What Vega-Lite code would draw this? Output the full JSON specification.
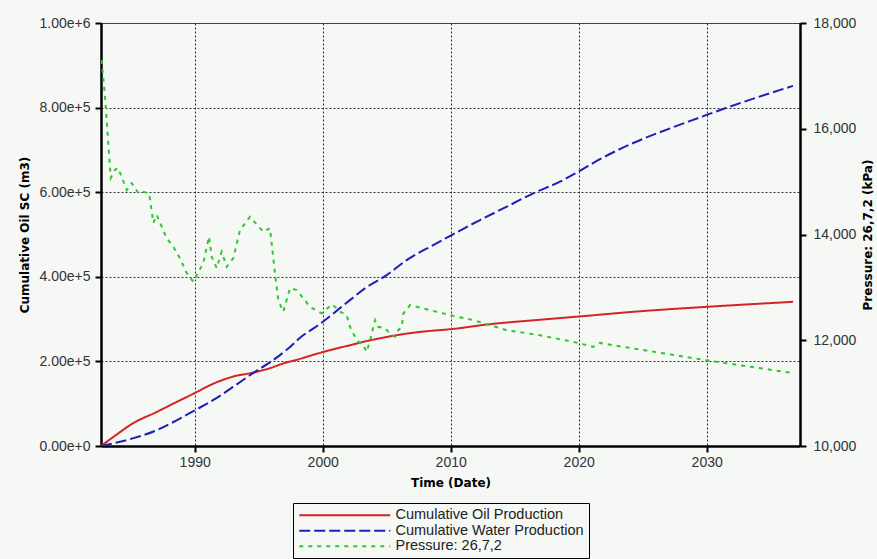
{
  "$schema": "https://vega.github.io/schema/vega-lite/v6.json",
  "width": 699,
  "height": 423,
  "autosize": {"type": "none"},
  "padding": {"left": 101, "top": 23, "right": 77, "bottom": 113},
  "background": "#f5f8f5",
  "config": {
    "font": "Liberation Sans",
    "view": {"stroke": "#555555", "strokeWidth": 1},
    "axis": {
      "domainColor": "#000000",
      "domainWidth": 2.5,
      "tickColor": "#000000",
      "tickWidth": 2,
      "tickSize": 6,
      "labelFont": "Liberation Sans",
      "labelFontSize": 14,
      "labelColor": "#333333",
      "titleFont": "DejaVu Sans",
      "titleFontSize": 12,
      "titleFontWeight": "bold",
      "titleColor": "#000000",
      "gridColor": "#333333",
      "gridDash": [2, 2],
      "gridWidth": 1,
      "gridOpacity": 1
    },
    "legend": {
      "orient": "none",
      "legendX": 192,
      "legendY": 480,
      "direction": "vertical",
      "strokeColor": "#000000",
      "fillColor": "#f5f8f5",
      "padding": 5,
      "symbolType": "M-1.2,0H17",
      "symbolSize": 100,
      "symbolStrokeWidth": 2,
      "labelOffset": 83,
      "labelFont": "Liberation Sans",
      "labelFontSize": 14.5,
      "labelColor": "#222222",
      "labelLimit": 400,
      "rowPadding": 0.5
    }
  },
  "datasets": {
    "production": [
      {"series": "Cumulative Oil Production", "year": 1982.68, "value": 0},
      {"series": "Cumulative Oil Production", "year": 1983.64, "value": 21300},
      {"series": "Cumulative Oil Production", "year": 1985.18, "value": 53700},
      {"series": "Cumulative Oil Production", "year": 1987.03, "value": 80500},
      {"series": "Cumulative Oil Production", "year": 1988.59, "value": 104100},
      {"series": "Cumulative Oil Production", "year": 1990.02, "value": 125400},
      {"series": "Cumulative Oil Production", "year": 1991.43, "value": 147000},
      {"series": "Cumulative Oil Production", "year": 1992.99, "value": 164000},
      {"series": "Cumulative Oil Production", "year": 1994.55, "value": 173500},
      {"series": "Cumulative Oil Production", "year": 1995.88, "value": 183900},
      {"series": "Cumulative Oil Production", "year": 1996.9, "value": 195000},
      {"series": "Cumulative Oil Production", "year": 1998.23, "value": 206000},
      {"series": "Cumulative Oil Production", "year": 1999.53, "value": 218000},
      {"series": "Cumulative Oil Production", "year": 2000.57, "value": 226500},
      {"series": "Cumulative Oil Production", "year": 2002.13, "value": 238300},
      {"series": "Cumulative Oil Production", "year": 2003.17, "value": 246200},
      {"series": "Cumulative Oil Production", "year": 2004.71, "value": 256000},
      {"series": "Cumulative Oil Production", "year": 2005.78, "value": 262000},
      {"series": "Cumulative Oil Production", "year": 2007.34, "value": 268800},
      {"series": "Cumulative Oil Production", "year": 2008.38, "value": 272000},
      {"series": "Cumulative Oil Production", "year": 2010.0, "value": 276200},
      {"series": "Cumulative Oil Production", "year": 2013.07, "value": 288000},
      {"series": "Cumulative Oil Production", "year": 2016.98, "value": 298500},
      {"series": "Cumulative Oil Production", "year": 2019.97, "value": 306000},
      {"series": "Cumulative Oil Production", "year": 2024.79, "value": 318500},
      {"series": "Cumulative Oil Production", "year": 2030.0, "value": 329000},
      {"series": "Cumulative Oil Production", "year": 2036.74, "value": 340800},
      {"series": "Cumulative Water Production", "year": 1982.68, "value": 0},
      {"series": "Cumulative Water Production", "year": 1985.18, "value": 18200},
      {"series": "Cumulative Water Production", "year": 1987.03, "value": 37200},
      {"series": "Cumulative Water Production", "year": 1988.59, "value": 60800},
      {"series": "Cumulative Water Production", "year": 1990.02, "value": 84500},
      {"series": "Cumulative Water Production", "year": 1991.43, "value": 108200},
      {"series": "Cumulative Water Production", "year": 1992.99, "value": 139600},
      {"series": "Cumulative Water Production", "year": 1994.55, "value": 172100},
      {"series": "Cumulative Water Production", "year": 1996.12, "value": 202800},
      {"series": "Cumulative Water Production", "year": 1997.45, "value": 234300},
      {"series": "Cumulative Water Production", "year": 1998.23, "value": 256000},
      {"series": "Cumulative Water Production", "year": 1999.53, "value": 283000},
      {"series": "Cumulative Water Production", "year": 2002.13, "value": 344900},
      {"series": "Cumulative Water Production", "year": 2003.3, "value": 372600},
      {"series": "Cumulative Water Production", "year": 2005.0, "value": 404000},
      {"series": "Cumulative Water Production", "year": 2006.56, "value": 439500},
      {"series": "Cumulative Water Production", "year": 2008.64, "value": 475000},
      {"series": "Cumulative Water Production", "year": 2010.08, "value": 498700},
      {"series": "Cumulative Water Production", "year": 2012.29, "value": 534200},
      {"series": "Cumulative Water Production", "year": 2014.38, "value": 565700},
      {"series": "Cumulative Water Production", "year": 2016.45, "value": 597400},
      {"series": "Cumulative Water Production", "year": 2018.54, "value": 624900},
      {"series": "Cumulative Water Production", "year": 2019.97, "value": 648500},
      {"series": "Cumulative Water Production", "year": 2021.66, "value": 677900},
      {"series": "Cumulative Water Production", "year": 2030.0, "value": 782700},
      {"series": "Cumulative Water Production", "year": 2036.74, "value": 851400}
    ],
    "pressure": [
      {"series": "Pressure: 26,7,2", "year": 1982.73, "kPa": 17300},
      {"series": "Pressure: 26,7,2", "year": 1982.99, "kPa": 16610},
      {"series": "Pressure: 26,7,2", "year": 1983.25, "kPa": 15730},
      {"series": "Pressure: 26,7,2", "year": 1983.44, "kPa": 15070},
      {"series": "Pressure: 26,7,2", "year": 1983.77, "kPa": 15220},
      {"series": "Pressure: 26,7,2", "year": 1984.0, "kPa": 15260},
      {"series": "Pressure: 26,7,2", "year": 1984.3, "kPa": 15090},
      {"series": "Pressure: 26,7,2", "year": 1984.69, "kPa": 14840},
      {"series": "Pressure: 26,7,2", "year": 1985.08, "kPa": 14970},
      {"series": "Pressure: 26,7,2", "year": 1985.59, "kPa": 14785},
      {"series": "Pressure: 26,7,2", "year": 1985.98, "kPa": 14810},
      {"series": "Pressure: 26,7,2", "year": 1986.45, "kPa": 14770},
      {"series": "Pressure: 26,7,2", "year": 1986.77, "kPa": 14220},
      {"series": "Pressure: 26,7,2", "year": 1987.03, "kPa": 14370},
      {"series": "Pressure: 26,7,2", "year": 1987.81, "kPa": 13930},
      {"series": "Pressure: 26,7,2", "year": 1988.33, "kPa": 13770},
      {"series": "Pressure: 26,7,2", "year": 1988.85, "kPa": 13550},
      {"series": "Pressure: 26,7,2", "year": 1989.38, "kPa": 13270},
      {"series": "Pressure: 26,7,2", "year": 1989.89, "kPa": 13105},
      {"series": "Pressure: 26,7,2", "year": 1990.67, "kPa": 13460},
      {"series": "Pressure: 26,7,2", "year": 1991.12, "kPa": 13960},
      {"series": "Pressure: 26,7,2", "year": 1991.33, "kPa": 13580},
      {"series": "Pressure: 26,7,2", "year": 1991.72, "kPa": 13365},
      {"series": "Pressure: 26,7,2", "year": 1992.11, "kPa": 13675},
      {"series": "Pressure: 26,7,2", "year": 1992.5, "kPa": 13390},
      {"series": "Pressure: 26,7,2", "year": 1993.02, "kPa": 13555},
      {"series": "Pressure: 26,7,2", "year": 1993.54, "kPa": 14085},
      {"series": "Pressure: 26,7,2", "year": 1994.32, "kPa": 14335},
      {"series": "Pressure: 26,7,2", "year": 1995.36, "kPa": 14050},
      {"series": "Pressure: 26,7,2", "year": 1995.88, "kPa": 14120},
      {"series": "Pressure: 26,7,2", "year": 1996.27, "kPa": 13270},
      {"series": "Pressure: 26,7,2", "year": 1996.53, "kPa": 12760},
      {"series": "Pressure: 26,7,2", "year": 1996.92, "kPa": 12540},
      {"series": "Pressure: 26,7,2", "year": 1997.45, "kPa": 12985},
      {"series": "Pressure: 26,7,2", "year": 1997.97, "kPa": 12950},
      {"series": "Pressure: 26,7,2", "year": 1999.01, "kPa": 12630},
      {"series": "Pressure: 26,7,2", "year": 1999.92, "kPa": 12510},
      {"series": "Pressure: 26,7,2", "year": 2000.75, "kPa": 12680},
      {"series": "Pressure: 26,7,2", "year": 2001.35, "kPa": 12540},
      {"series": "Pressure: 26,7,2", "year": 2001.88, "kPa": 12475},
      {"series": "Pressure: 26,7,2", "year": 2002.13, "kPa": 12255},
      {"series": "Pressure: 26,7,2", "year": 2002.66, "kPa": 12000},
      {"series": "Pressure: 26,7,2", "year": 2003.17, "kPa": 11905},
      {"series": "Pressure: 26,7,2", "year": 2003.44, "kPa": 11780},
      {"series": "Pressure: 26,7,2", "year": 2003.7, "kPa": 12000},
      {"series": "Pressure: 26,7,2", "year": 2004.09, "kPa": 12380},
      {"series": "Pressure: 26,7,2", "year": 2004.34, "kPa": 12255},
      {"series": "Pressure: 26,7,2", "year": 2004.87, "kPa": 12225},
      {"series": "Pressure: 26,7,2", "year": 2005.26, "kPa": 12130},
      {"series": "Pressure: 26,7,2", "year": 2005.65, "kPa": 12065},
      {"series": "Pressure: 26,7,2", "year": 2005.91, "kPa": 12190},
      {"series": "Pressure: 26,7,2", "year": 2006.17, "kPa": 12255},
      {"series": "Pressure: 26,7,2", "year": 2006.3, "kPa": 12505},
      {"series": "Pressure: 26,7,2", "year": 2006.82, "kPa": 12665},
      {"series": "Pressure: 26,7,2", "year": 2008.38, "kPa": 12570},
      {"series": "Pressure: 26,7,2", "year": 2009.95, "kPa": 12475},
      {"series": "Pressure: 26,7,2", "year": 2011.77, "kPa": 12380},
      {"series": "Pressure: 26,7,2", "year": 2014.38, "kPa": 12190},
      {"series": "Pressure: 26,7,2", "year": 2016.98, "kPa": 12095},
      {"series": "Pressure: 26,7,2", "year": 2019.58, "kPa": 11970},
      {"series": "Pressure: 26,7,2", "year": 2021.14, "kPa": 11875},
      {"series": "Pressure: 26,7,2", "year": 2021.66, "kPa": 11950},
      {"series": "Pressure: 26,7,2", "year": 2022.7, "kPa": 11905},
      {"series": "Pressure: 26,7,2", "year": 2024.79, "kPa": 11825},
      {"series": "Pressure: 26,7,2", "year": 2030.0, "kPa": 11620},
      {"series": "Pressure: 26,7,2", "year": 2036.74, "kPa": 11380}
    ]
  },
  "layer": [
    {
      "data": {"name": "production"},
      "mark": {"type": "line", "strokeWidth": 2, "clip": true, "interpolate": "monotone"},
      "encoding": {
        "x": {
          "field": "year",
          "type": "quantitative",
          "scale": {"domain": [1982.68, 2037.29], "nice": false, "zero": false},
          "axis": {
            "title": "Time (Date)",
            "values": [1990, 2000, 2010, 2020, 2030],
            "format": "d",
            "grid": true,
            "labelPadding": 3,
            "titlePadding": 8
          }
        },
        "y": {
          "field": "value",
          "type": "quantitative",
          "scale": {"domain": [0, 1000000], "nice": false, "zero": false},
          "axis": {
            "orient": "left",
            "title": "Cumulative Oil SC (m3)",
            "values": [0, 200000, 400000, 600000, 800000, 1000000],
            "format": ".2e",
            "grid": true,
            "labelPadding": 5,
            "titlePadding": 8
          }
        },
        "color": {
          "field": "series",
          "type": "nominal",
          "scale": {
            "domain": ["Cumulative Oil Production", "Cumulative Water Production", "Pressure: 26,7,2"],
            "range": ["#d42424", "#1f1fb8", "#2ec82e"]
          },
          "legend": {"title": null}
        },
        "strokeDash": {
          "field": "series",
          "type": "nominal",
          "scale": {
            "domain": ["Cumulative Oil Production", "Cumulative Water Production", "Pressure: 26,7,2"],
            "range": [[1, 0], [11, 4], [4, 5]]
          },
          "legend": {"title": null}
        }
      }
    },
    {
      "data": {"name": "pressure"},
      "mark": {"type": "line", "strokeWidth": 2, "clip": true},
      "encoding": {
        "x": {"field": "year", "type": "quantitative"},
        "y": {
          "field": "kPa",
          "type": "quantitative",
          "scale": {"domain": [10000, 18000], "nice": false, "zero": false},
          "axis": {
            "orient": "right",
            "title": "Pressure: 26,7,2 (kPa)",
            "titleAngle": 270,
            "values": [10000, 12000, 14000, 16000, 18000],
            "format": ",d",
            "grid": false,
            "labelPadding": 7,
            "titlePadding": 19
          }
        },
        "color": {"field": "series", "type": "nominal"},
        "strokeDash": {"field": "series", "type": "nominal"}
      }
    }
  ],
  "resolve": {"scale": {"y": "independent"}}
}
